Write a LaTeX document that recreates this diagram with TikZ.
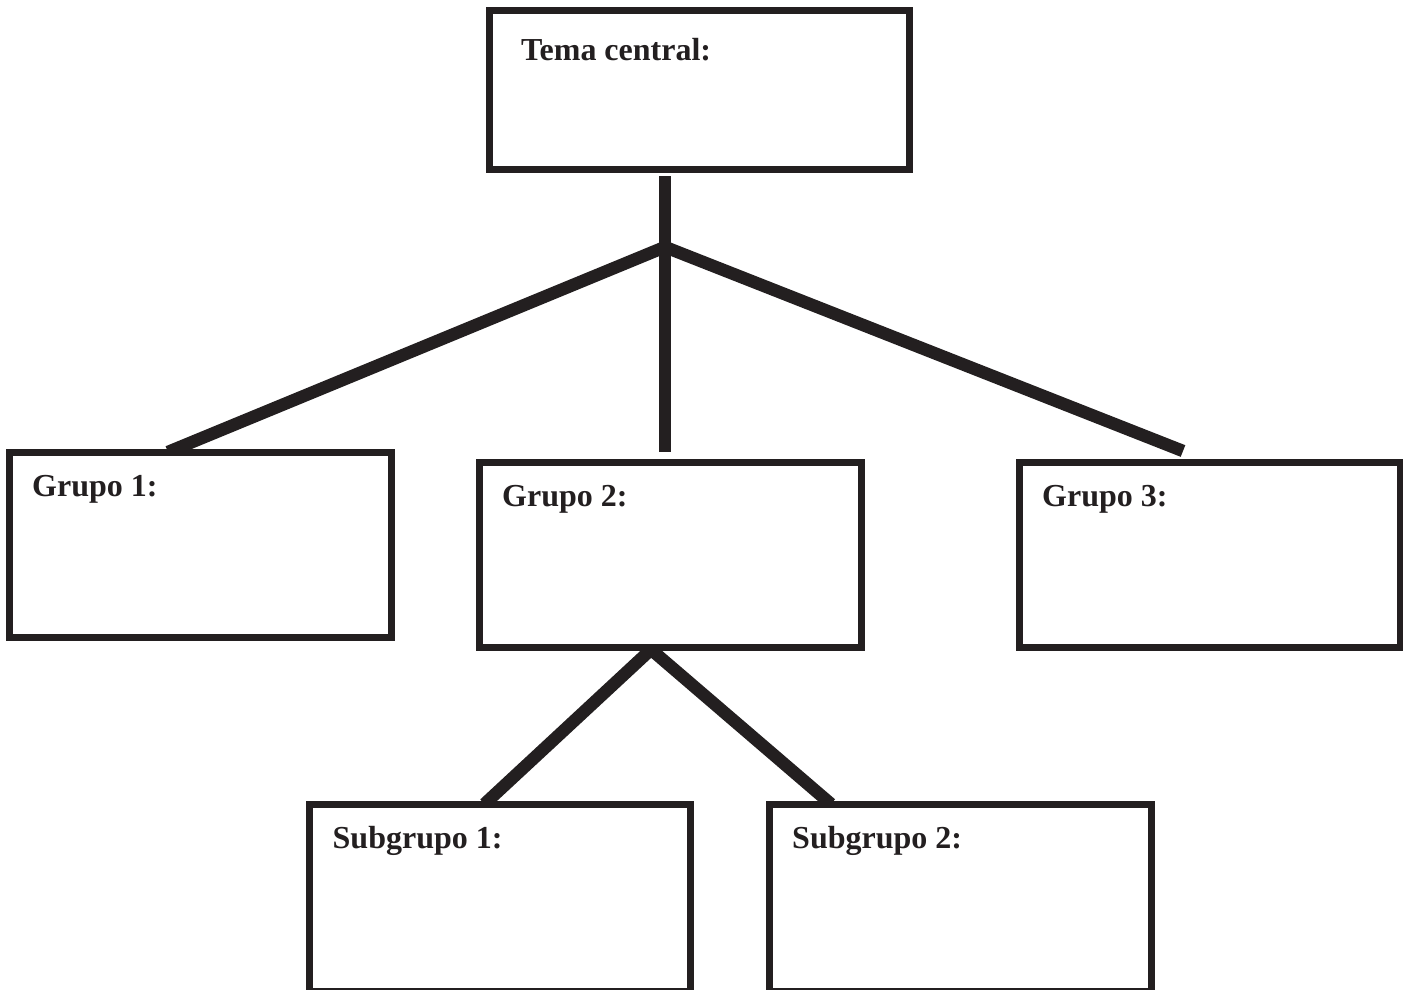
\documentclass[tikz,border=0pt]{standalone}
\usepackage{fontspec}
\setmainfont{Liberation Serif}
\usetikzlibrary{calc}
\definecolor{ink}{RGB}{35,31,32}
\pgfdeclarelayer{paper}
\pgfdeclarelayer{under}
\pgfsetlayers{paper,under,main}
\begin{document}
\begin{tikzpicture}[x=1pt,y=-1pt,
  box/.style={draw=ink, line width=7pt, fill=white, rectangle, inner sep=0pt, outer sep=0pt},
  link/.style={draw=ink, line width=12.5pt, line cap=butt, line join=miter},
  title/.style={anchor=base west, inner sep=0pt, text=ink,
    font=\bfseries\fontsize{32}{36}\selectfont}]
\useasboundingbox (0,0) rectangle (1403,989);
\begin{pgfonlayer}{paper}
  \fill[white] (0,0) rectangle (1403,989);
\end{pgfonlayer}

% boxes
\node[box, minimum width=420pt, minimum height=159.5pt] (tema) at (699.5,89.75) {};
\node[box, minimum width=382pt, minimum height=185.5pt] (g1) at (200,544.75) {};
\node[box, minimum width=382pt, minimum height=185.5pt] (g2) at (670,554.75) {};
\node[box, minimum width=381.5pt, minimum height=185.5pt] (g3) at (1209.75,554.75) {};
\node[box, minimum width=381pt, minimum height=187.5pt] (s1) at (500,897.75) {};
\node[box, minimum width=382pt, minimum height=187.5pt] (s2) at (960,897.75) {};

% labels
\node[title] (tema-t) at ($(tema.north west)+(31.5,50)$) {Tema central:};
\node[title] (g1-t) at ($(g1.north west)+(23,44)$) {Grupo 1:};
\node[title] (g2-t) at ($(g2.north west)+(23,44)$) {Grupo 2:};
\node[title] (g3-t) at ($(g3.north west)+(23,44)$) {Grupo 3:};
\node[title] (s1-t) at ($(s1.north west)+(23,44)$) {Subgrupo 1:};
\node[title] (s2-t) at ($(s2.north west)+(23,44)$) {Subgrupo 2:};

% connector end points
\coordinate (stemtop) at ($(tema.south west)+(175.5,6.5)$);
\coordinate (stembot) at ($(g2.north west)+(186,-10)$);
\coordinate (hub) at ($(stemtop)+(0,71)$);
\coordinate (g1end) at ($(g1.north west)+(159,0)$);
\coordinate (g3end) at ($(g3.north west)+(164,-11)$);
\coordinate (apex) at ($(g2.south west)+(172,2)$);
\coordinate (s1end) at ($(s1.north west)+(175,0)$);
\coordinate (s2end) at ($(s2.north west)+(62,0)$);

% connectors, kept beneath the boxes
\begin{pgfonlayer}{under}
  \draw[link] (stemtop) -- (stembot);
  \draw[link] (g1end) -- (hub) -- (g3end);
  \draw[link] (s1end) -- (apex) -- (s2end);
\end{pgfonlayer}
\end{tikzpicture}
\end{document}
